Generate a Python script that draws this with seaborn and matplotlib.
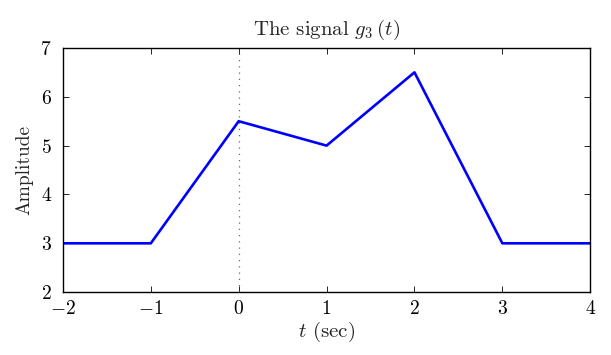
import matplotlib
matplotlib.use("Agg")
import matplotlib.pyplot as plt
import seaborn as sns
import pandas as pd

t_values = [-2, -1, 0, 1, 2, 3, 4]
g3_values = [3, 3, 5.5, 5, 6.5, 3, 3]
x_ticks = [-2, -1, 0, 1, 2, 3, 4]
y_ticks = [2, 3, 4, 5, 6, 7]

sns.set_style("ticks")
plt.rcParams['font.family'] = 'serif'
plt.rcParams['font.serif'] = ['cmr10']
plt.rcParams['mathtext.fontset'] = 'cm'
plt.rcParams['axes.formatter.use_mathtext'] = True
plt.rcParams['axes.unicode_minus'] = True

df = pd.DataFrame({"t": t_values, "g": g3_values})

fig = plt.figure(figsize=(6.11, 3.55), dpi=100)
ax = fig.add_axes([0.103, 0.177, 0.863, 0.688])
ax.axvline(0, color='dimgray', linestyle=(0, (1, 4)), linewidth=0.9)
sns.lineplot(data=df, x="t", y="g", ax=ax, color=(0, 0, 1), linewidth=1.9)

ax.set_xlim(-2, 4)
ax.set_ylim(2, 7)
ax.set_xticks(x_ticks)
ax.set_yticks(y_ticks)
ax.tick_params(direction='in', top=True, right=True, length=4, width=0.6,
               labelsize=14, colors='black')
ax.tick_params(axis='x', pad=6)
ax.tick_params(axis='y', pad=8)
for s in ax.spines.values():
    s.set_linewidth(1.0)
    s.set_color('black')
ax.set_xlabel(r"$t$ (sec)", fontsize=15, labelpad=1)
ax.set_ylabel("Amplitude", fontsize=14, labelpad=5)
ax.set_title(r"The signal $g_3\,(t)$", fontsize=15, pad=9)

fig.savefig("out.png", dpi=100)
